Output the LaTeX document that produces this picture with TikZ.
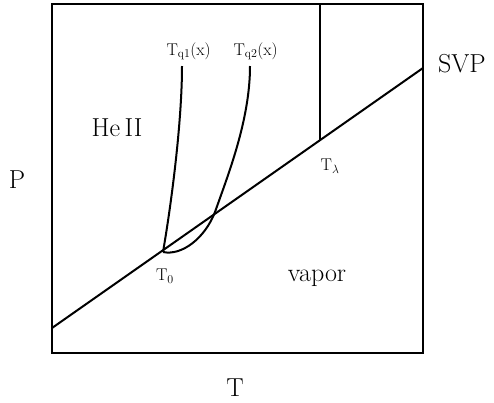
\documentclass[tikz,border=0pt]{standalone}
\usepackage{amsmath}
\usepackage{tikz}

\begin{document}
\begin{tikzpicture}[x=1pt,y=-1pt,
  big/.style={font=\fontsize{26}{30}\selectfont},
  small/.style={font=\fontsize{17}{20}\selectfont},
  curve/.style={line width=2pt}]
			\useasboundingbox (0,0) rectangle (494,402);
			% frame
			\draw[line width=1.6pt] (52,4) rectangle (423,353);
			% points
			\coordinate (left) at (52,328);
			\coordinate (right) at (423,68);
			\coordinate (t0) at (163,252);
			\coordinate (tl) at (320,140);
			\coordinate (tltop) at (320,4);
			\coordinate (q1top) at (182,66);
			\coordinate (q2top) at (250,66);
			\coordinate (cross) at (215,212);
			% SVP line and lambda line
			\draw[curve] (left) -- (right);
			\draw[curve] (tl) -- (tltop);
			% onset curves
			\draw[curve] (t0) .. controls (172,200) and (182,120) .. (q1top);
			\draw[curve] (t0) .. controls (182,256) and (205,238) .. (cross)
			  .. controls (228,175) and (250,120) .. (q2top);
			% labels
			\node[big] (pl) at (17,180) {P};
			\node[big] (tax) at (235,388) {T};
			\node[big] (svp) at (462,64) {SVP};
			\node[big] (heii) at (117,128) {He\,II};
			\node[big] (vap) at (317,278) {vapor};
			\node[small] (t0l) at (165,276) {T$_0$};
			\node[small] (tll) at (330,166) {T$_\lambda$};
			\node[small,anchor=base west] (q1l) at (163,55) {T$_{\text{q}1}$(x)};
			\node[small,anchor=base west] (q2l) at (230,55) {T$_{\text{q}2}$(x)};
		\end{tikzpicture}
\end{document}
